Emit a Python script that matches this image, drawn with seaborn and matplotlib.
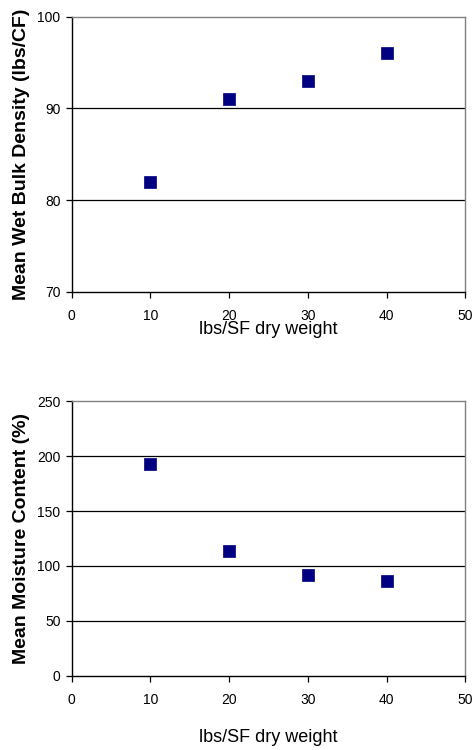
import matplotlib
matplotlib.use("Agg")
import matplotlib.pyplot as plt
import seaborn as sns
import pandas as pd

# Data
weights = [10, 20, 30, 40]
bulk_density = [82, 91, 93, 96]
moisture_content = [193, 114, 92, 86]
x_ticks = [0, 10, 20, 30, 40, 50]
y_ticks_top = [70, 80, 90, 100]
y_ticks_bottom = [0, 50, 100, 150, 200, 250]
xlabel = "lbs/SF dry weight"
ylabel_top = "Mean Wet Bulk Density (lbs/CF)"
ylabel_bottom = "Mean Moisture Content (%)"

sns.set_theme(style="white")
plt.rcParams['font.family'] = ['Liberation Sans', 'DejaVu Sans']

fig = plt.figure(figsize=(4.74, 7.5), dpi=100)
ax1 = fig.add_axes([0.151, 0.6107, 0.831, 0.367])
ax2 = fig.add_axes([0.151, 0.0987, 0.831, 0.3666])

df1 = pd.DataFrame({"x": weights, "y": bulk_density})
df2 = pd.DataFrame({"x": weights, "y": moisture_content})

navy = "#000080"

def style(ax, yticks, ylab, xlab_y):
    ax.set_xlim(0, 50)
    ax.set_ylim(yticks[0], yticks[-1])
    ax.set_xticks(x_ticks)
    ax.set_yticks(yticks)
    ax.set_facecolor("white")
    for yv in yticks[1:-1]:
        ax.axhline(yv, color="black", lw=0.9, zorder=1)
    ax.spines['left'].set_color("black")
    ax.spines['bottom'].set_color("black")
    ax.spines['top'].set_color("#808080")
    ax.spines['right'].set_color("#808080")
    for s in ax.spines.values():
        s.set_linewidth(1.0)
    ax.tick_params(axis='both', which='major', direction='out', length=4,
                   width=0.9, color='black', labelsize=10, labelcolor='black',
                   left=True, bottom=True)
    ax.tick_params(axis='x', pad=8)
    ax.tick_params(axis='y', pad=4)
    ax.set_ylabel(ylab, fontsize=14, fontweight='bold', color='black')
    ax.yaxis.label.set_va('center')
    ax.yaxis.set_label_coords(-0.126, 0.5)
    ax.set_xlabel(xlab, fontsize=13, color='black')
    ax.xaxis.label.set_va('center')
    ax.xaxis.set_label_coords(0.5, xlab_y)
    ax.grid(False)

sns.scatterplot(data=df1, x="x", y="y", ax=ax1, marker="s", s=72,
                color=navy, edgecolor=navy, linewidth=0.5, zorder=3)
sns.scatterplot(data=df2, x="x", y="y", ax=ax2, marker="s", s=72,
                color=navy, edgecolor=navy, linewidth=0.5, zorder=3)

xlab = xlabel
style(ax1, y_ticks_top, ylabel_top, -0.138)
style(ax2, y_ticks_bottom, ylabel_bottom, -0.225)

fig.savefig("out.png", dpi=100, facecolor="white")
